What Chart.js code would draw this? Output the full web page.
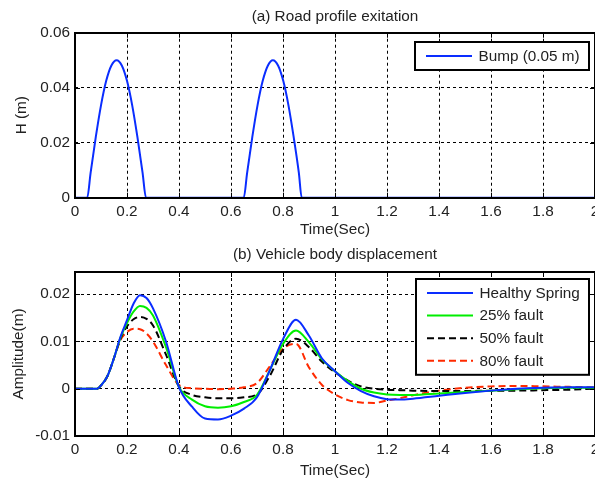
<!DOCTYPE html>
<html><head><meta charset="utf-8">
<script src="https://cdn.jsdelivr.net/npm/chart.js@4.4.1/dist/chart.umd.min.js"></script>
<style>
html,body{margin:0;padding:0;background:#fff;}
#wrap{position:relative;width:595px;height:481px;overflow:hidden;}
canvas{position:absolute;left:0;}
</style></head><body>
<div id="wrap">
<canvas id="c1" width="595" height="240" style="top:0px"></canvas>
<canvas id="c2" width="595" height="241" style="top:240px"></canvas>
</div>
<script>
// ---------- data ----------
const bumpTime   = [0, 0.047, 0.06, 0.08, 0.10, 0.12, 0.14, 0.16, 0.18, 0.20, 0.22, 0.24, 0.26, 0.273,
                    0.649, 0.662, 0.682, 0.702, 0.722, 0.742, 0.761, 0.781, 0.801, 0.821, 0.841, 0.861, 0.872, 2.0];
const bumpHeight = [0, 0, 0.0090, 0.0221, 0.0336, 0.0425, 0.0481, 0.0500, 0.0481, 0.0425, 0.0336, 0.0221, 0.0090, 0,
                    0, 0.0090, 0.0221, 0.0336, 0.0425, 0.0481, 0.0500, 0.0481, 0.0425, 0.0336, 0.0221, 0.0090, 0, 0];

const timeSec = [0, 0.05, 0.085, 0.10, 0.125, 0.15, 0.175, 0.20, 0.225, 0.25, 0.275, 0.30, 0.35, 0.40, 0.45, 0.50,
                 0.55, 0.60, 0.65, 0.70, 0.75, 0.80, 0.85, 0.90, 0.95, 1.00, 1.05, 1.10, 1.15, 1.20, 1.25, 1.30,
                 1.40, 1.50, 1.60, 1.70, 1.80, 1.90, 2.00];
const healthySpring = [0, 0, 0, 0.0007, 0.0027, 0.0065, 0.0110, 0.0145, 0.0180, 0.0198, 0.0192, 0.0170, 0.0100, 0.0003, -0.0038, -0.0063,
                 -0.0065, -0.0057, -0.0042, -0.0018, 0.0040, 0.0105, 0.0146, 0.0112, 0.0064, 0.0037, 0.0012, -0.0005, -0.0016, -0.0022, -0.0023, -0.0021,
                 -0.0015, -0.0009, -0.0004, 0.0000, 0.0002, 0.0003, 0.0003];
const fault25 = [0, 0, 0, 0.0007, 0.0027, 0.0065, 0.0108, 0.0139, 0.0163, 0.0175, 0.0171, 0.0155, 0.0088, 0.0004, -0.0023, -0.0037,
                 -0.0040, -0.0037, -0.0028, -0.0013, 0.0040, 0.0095, 0.0123, 0.0098, 0.0062, 0.0037, 0.0016, 0.0000, -0.0008, -0.0012, -0.0013, -0.0013,
                 -0.0010, -0.0007, -0.0004, -0.0001, 0.0001, 0.0002, 0.0002];
const fault50 = [0, 0, 0, 0.0007, 0.0027, 0.0065, 0.0106, 0.0132, 0.0147, 0.0152, 0.0148, 0.0134, 0.0072, 0.0005, -0.0013, -0.0018,
                 -0.0020, -0.0020, -0.0018, -0.0012, 0.0028, 0.0082, 0.0106, 0.0088, 0.0057, 0.0035, 0.0017, 0.0005, 0.0000, -0.0002, -0.0003, -0.0004,
                 -0.0005, -0.0005, -0.0004, -0.0004, -0.0003, -0.0002, 0.0000];
const fault80 = [0, 0, 0, 0.0007, 0.0027, 0.0065, 0.0103, 0.0120, 0.0127, 0.0126, 0.0117, 0.0100, 0.0050, 0.0008, 0.0001, 0.0000,
                 -0.0001, 0.0000, 0.0003, 0.0012, 0.0048, 0.0085, 0.0095, 0.0045, 0.0008, -0.0012, -0.0024, -0.0029, -0.0030, -0.0025, -0.0020, -0.0014,
                 -0.0004, 0.0002, 0.0005, 0.0006, 0.0005, 0.0004, 0.0003];

const xTickValues = [0, 0.2, 0.4, 0.6, 0.8, 1, 1.2, 1.4, 1.6, 1.8, 2];
const xTickLabels = ['0', '0.2', '0.4', '0.6', '0.8', '1', '1.2', '1.4', '1.6', '1.8', '2'];
const topYTickValues = [0, 0.02, 0.04, 0.06];
const topYTickLabels = ['0', '0.02', '0.04', '0.06'];
const botYTickValues = [-0.01, 0, 0.01, 0.02];
const botYTickLabels = ['-0.01', '0', '0.01', '0.02'];

// ---------- helpers ----------
const FONT = 'Arial, "Liberation Sans", Helvetica, sans-serif';
const FS = 15.3;
const zip = (xs, ys) => xs.map((x, i) => ({x: x, y: ys[i]}));

const framePlugin = {
  id: 'frame',
  afterDraw(chart) {
    const {ctx, chartArea: a} = chart;
    const xs = chart.scales.x, ys = chart.scales.y;
    ctx.save();
    ctx.strokeStyle = '#000';
    ctx.lineWidth = 1;
    ctx.beginPath();
    xTickValues.forEach(v => {
      const p = Math.round(xs.getPixelForValue(v)) + 0.5;
      ctx.moveTo(p, a.top); ctx.lineTo(p, a.top + 5);
      ctx.moveTo(p, a.bottom); ctx.lineTo(p, a.bottom - 5);
    });
    ys.ticks.forEach(t => {
      const p = Math.round(ys.getPixelForValue(t.value)) + 0.5;
      ctx.moveTo(a.left, p); ctx.lineTo(a.left + 5, p);
      ctx.moveTo(a.right, p); ctx.lineTo(a.right - 5, p);
    });
    ctx.stroke();
    ctx.lineWidth = 2;
    ctx.strokeRect(Math.round(a.left), Math.round(a.top), Math.round(a.right - a.left), Math.round(a.bottom - a.top));
    // legend
    const lg = chart.options.plugins.boxLegend;
    if (lg) {
      const ds = chart.data.datasets;
      const w = lg.width, row = 22.6;
      const h = 28 + (ds.length - 1) * row;
      const bx = Math.round(a.right - lg.right - w), by = Math.round(a.top + lg.top);
      ctx.fillStyle = '#fff';
      ctx.fillRect(bx, by, w, h);
      ctx.lineWidth = 2;
      ctx.strokeStyle = '#000';
      ctx.strokeRect(bx, by, w, h);
      ctx.font = FS + 'px ' + FONT;
      ctx.textBaseline = 'middle';
      ctx.textAlign = 'left';
      ds.forEach((d, i) => {
        const y = by + 14 + i * row;
        ctx.beginPath();
        ctx.setLineDash(d.borderDash || []);
        ctx.strokeStyle = d.borderColor;
        ctx.lineWidth = 2;
        ctx.moveTo(bx + 11, y); ctx.lineTo(bx + 57, y);
        ctx.stroke();
        ctx.setLineDash([]);
        ctx.fillStyle = '#222';
        ctx.fillText(d.label, bx + 63.5, y + 0.5);
      });
    }
    ctx.restore();
  }
};

function buildOptions(cfg) {
  return {
    responsive: false,
    animation: false,
    devicePixelRatio: 1,
    layout: {padding: {left: 0, right: 0, top: 0, bottom: 0}},
    plugins: {
      legend: {display: false},
      tooltip: {enabled: false},
      title: {
        display: true, text: cfg.title, color: '#222', fullSize: false,
        font: {family: FONT, size: FS, weight: 'normal', lineHeight: 1.2},
        padding: cfg.titlePad
      },
      boxLegend: cfg.legend
    },
    scales: {
      x: {
        type: 'linear', min: 0, max: 2,
        afterBuildTicks: s => { s.ticks = xTickValues.map(v => ({value: v})); },
        afterFit: s => { s.height = cfg.xHeight; s.paddingLeft = 0; s.paddingRight = 0; },
        ticks: {
          color: '#222', padding: 5, maxRotation: 0, autoSkip: false,
          font: {family: FONT, size: FS},
          callback: (v) => { const i = xTickValues.indexOf(v); return i >= 0 ? xTickLabels[i] : ''; }
        },
        grid: {color: '#000', lineWidth: 1, drawTicks: false},
        border: {display: false, dash: [3, 3]},
        title: {display: true, text: 'Time(Sec)', color: '#222', font: {family: FONT, size: FS, lineHeight: 1.2}, padding: {top: 0, bottom: 1}}
      },
      y: {
        type: 'linear', min: cfg.yMin, max: cfg.yMax,
        afterBuildTicks: s => { s.ticks = cfg.yTickValues.map(v => ({value: v})); },
        afterFit: s => { s.width = 75; s.paddingTop = 0; s.paddingBottom = 0; },
        ticks: {
          color: '#222', padding: 5, autoSkip: false,
          font: {family: FONT, size: FS},
          callback: (v) => { const i = cfg.yTickValues.findIndex(t => Math.abs(t - v) < 1e-9); return i >= 0 ? cfg.yTickLabels[i] : ''; }
        },
        grid: {color: '#000', lineWidth: 1, drawTicks: false},
        border: {display: false, dash: [3, 3]},
        title: {display: true, text: cfg.yTitle, color: '#222', font: {family: FONT, size: FS, lineHeight: 1.2}, padding: {top: cfg.yTitlePad, bottom: 0}}
      }
    }
  };
}

const lineDefaults = {pointRadius: 0, borderWidth: 2, cubicInterpolationMode: 'monotone', fill: false};

new Chart(document.getElementById('c1'), {
  type: 'line',
  data: {
    datasets: [Object.assign({}, lineDefaults, {
      label: 'Bump (0.05 m)', data: zip(bumpTime, bumpHeight), borderColor: '#0a2dff'
    })]
  },
  options: buildOptions({
    title: '(a) Road profile exitation', titlePad: {top: 8, bottom: 6.36},
    yTitle: 'H (m)', yTitlePad: 12.5, yMin: 0, yMax: 0.06,
    yTickValues: topYTickValues, yTickLabels: topYTickLabels, xHeight: 42.3,
    legend: {width: 174, right: 6, top: 9}
  }),
  plugins: [framePlugin]
});

new Chart(document.getElementById('c2'), {
  type: 'line',
  data: {
    datasets: [
      Object.assign({}, lineDefaults, {label: 'Healthy Spring', data: zip(timeSec, healthySpring), borderColor: '#0a2dff'}),
      Object.assign({}, lineDefaults, {label: '25% fault', data: zip(timeSec, fault25), borderColor: '#00ee00'}),
      Object.assign({}, lineDefaults, {label: '50% fault', data: zip(timeSec, fault50), borderColor: '#000000', borderDash: [7, 4]}),
      Object.assign({}, lineDefaults, {label: '80% fault', data: zip(timeSec, fault80), borderColor: '#ff2a00', borderDash: [7, 4]})
    ]
  },
  options: buildOptions({
    title: '(b) Vehicle body displacement', titlePad: {top: 6, bottom: 7.64},
    yTitle: 'Amplitude(m)', yTitlePad: 9.1, yMin: -0.01, yMax: 0.0247,
    yTickValues: botYTickValues, yTickLabels: botYTickLabels, xHeight: 45,
    legend: {width: 173, right: 6, top: 7.3}
  }),
  plugins: [framePlugin]
});
</script>
</body></html>
